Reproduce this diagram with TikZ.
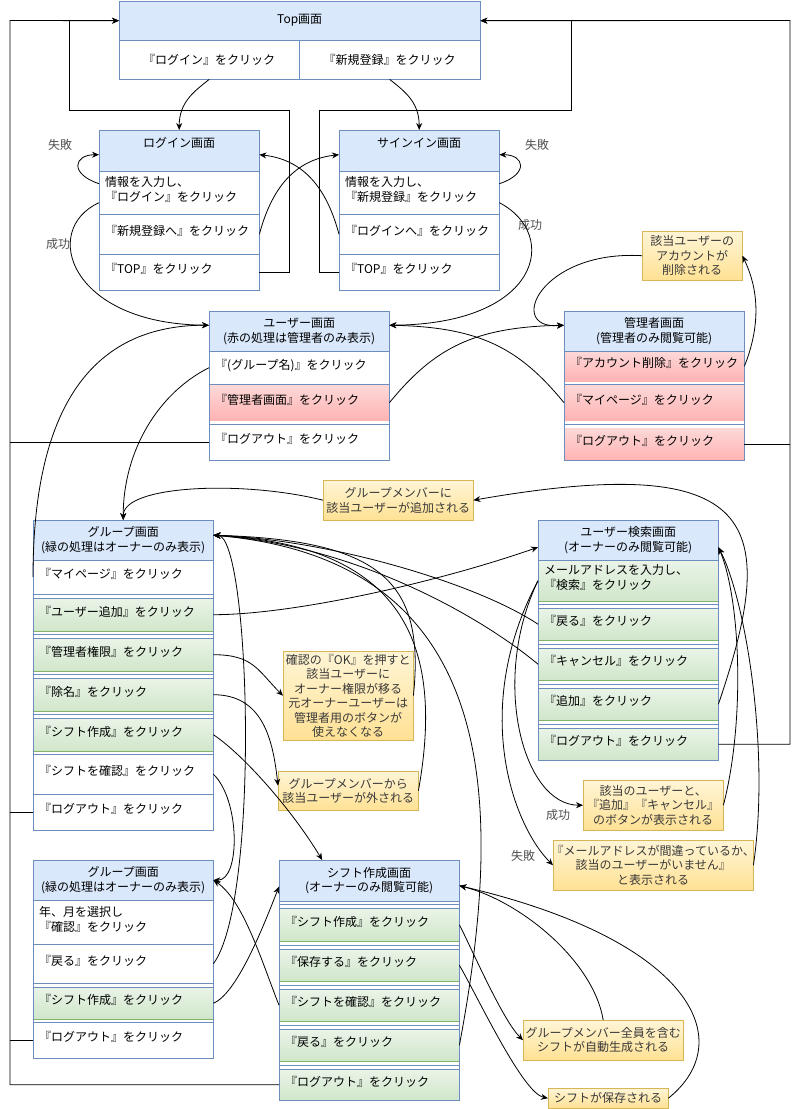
\documentclass[tikz,border=0pt]{standalone}
\usepackage{fontspec}
\setmainfont{Noto Sans CJK JP}
\usetikzlibrary{arrows.meta}
\definecolor{scrfill}{HTML}{DAE8FC}
\definecolor{scrline}{HTML}{6C8EBF}
\definecolor{owntop}{HTML}{EAF4E8}
\definecolor{ownbot}{HTML}{D0E6CA}
\definecolor{ownline}{HTML}{82B366}
\definecolor{admtop}{HTML}{FDD8D8}
\definecolor{admbot}{HTML}{FFB3B3}
\definecolor{notetop}{HTML}{FFF5D6}
\definecolor{notebot}{HTML}{FFE194}
\definecolor{noteline}{HTML}{D6B656}
\definecolor{notetext}{HTML}{3A3A3A}
\definecolor{lbltext}{HTML}{505050}

\begin{document}
\begin{tikzpicture}[x=1pt, y=-1pt, >={Stealth[length=7pt,width=6pt]},
  font=\fontsize{12}{14.5}\selectfont,
  hdr/.style={anchor=north west, draw=scrline, fill=scrfill, minimum height=40, inner sep=0pt, align=center},
  item/.style={anchor=north west, minimum width=180, text width=168pt, inner xsep=6pt, inner ysep=0pt, align=left,
    execute at end node={\rule[-7pt]{0pt}{7pt}}},
  litem/.style={item, minimum width=160, text width=148pt},
  own/.style={top color=owntop, bottom color=ownbot, draw=ownline},
  adm/.style={top color=admtop, bottom color=admbot},
  cell/.style={anchor=north west, inner sep=0pt, minimum height=39, align=center},
  note/.style={anchor=north west, draw=noteline, top color=notetop, bottom color=notebot, inner sep=0pt, align=center, text=notetext},
  lbl/.style={text=lbltext, inner sep=1pt},
  sep/.style={draw=scrline, line width=0.8pt},
  wire/.style={line width=0.8pt},
  conn/.style={->, line width=0.8pt}]
  \useasboundingbox (0,0) rectangle (800,1109);
  \fill[white] (0,0) rectangle (800,1109);

  % Top
  \node[hdr, minimum width=361, minimum height=39] (topHdr) at (119,1) {Top画面};
  \node[cell, minimum width=180] (topLogin) at (119,40) {『ログイン』をクリック};
  \node[cell, minimum width=181] (topSignup) at (299,40) {『新規登録』をクリック};
  \draw[sep] (topHdr.north west) rectangle (topSignup.south east);
  \draw[sep] (topLogin.north west) -- (topSignup.north east);
  \draw[sep] (topLogin.north east) -- (topLogin.south east);

  % login
  \node[hdr, minimum width=160, minimum height=41] (lgHdr) at (99,130) {};
  \node (lgTitle) at ([yshift=-13pt]lgHdr.north) {ログイン画面};
  \node[litem, minimum height=43] (lgInput) at (99,171) {情報を入力し、\\『ログイン』をクリック};
  \node[litem, minimum height=40] (lgToSign) at (99,214) {『新規登録へ』をクリック};
  \node[litem, minimum height=36] (lgTop) at (99,254) {『TOP』をクリック};
  \draw[sep] (lgHdr.north west) rectangle (lgTop.south east);
  \foreach \y in {171,214,254} \draw[sep] (99,\y) -- (259,\y);

  % sign in
  \node[hdr, minimum width=160, minimum height=41] (snHdr) at (339,130) {};
  \node (snTitle) at ([yshift=-13pt]snHdr.north) {サインイン画面};
  \node[litem, minimum height=43] (snInput) at (339,171) {情報を入力し、\\『新規登録』をクリック};
  \node[litem, minimum height=40] (snToLogin) at (339,214) {『ログインへ』をクリック};
  \node[litem, minimum height=36] (snTop) at (339,254) {『TOP』をクリック};
  \draw[sep] (snHdr.north west) rectangle (snTop.south east);
  \foreach \y in {171,214,254} \draw[sep] (339,\y) -- (499,\y);

  % user
  \node[hdr, minimum width=180] (usrHdr) at (209,311) {ユーザー画面\\(赤の処理は管理者のみ表示)};
  \node[item, minimum height=33] (usrGroup) at (209,351) {『(グループ名)』をクリック};
  \node[item, adm, minimum height=35] (usrAdmin) at (209,385) {『管理者画面』をクリック};
  \node[item, minimum height=36] (usrLogout) at (209,424) {『ログアウト』をクリック};
  \draw[sep] (usrHdr.north west) rectangle (usrLogout.south east);
  \foreach \y in {351,384,424} \draw[sep] (209,\y) -- (389,\y);

  % admin
  \node[hdr, minimum width=180] (admHdr) at (564,311) {管理者画面\\(管理者のみ閲覧可能)};
  \node[item, adm, minimum height=30] (admDel) at (564,351) {『アカウント削除』をクリック};
  \node[item, adm, minimum height=35] (admMy) at (564,385) {『マイページ』をクリック};
  \node[item, adm, minimum height=32] (admLogout) at (564,428) {『ログアウト』をクリック};
  \draw[sep] (admHdr.north west) rectangle (admLogout.south east);
  \foreach \y in {351,384,424} \draw[sep] (564,\y) -- (744,\y);

  % group
  \node[hdr, minimum width=180] (grpHdr) at (33,520) {グループ画面\\(緑の処理はオーナーのみ表示)};
  \node[item, minimum height=34] (grpMy) at (33,560) {『マイページ』をクリック};
  \node[item, own, minimum height=33] (grpAdd) at (33,598) {『ユーザー追加』をクリック};
  \node[item, own, minimum height=33] (grpOwner) at (33,638) {『管理者権限』をクリック};
  \node[item, own, minimum height=33] (grpRemove) at (33,678) {『除名』をクリック};
  \node[item, own, minimum height=33] (grpShift) at (33,718) {『シフト作成』をクリック};
  \node[item, minimum height=40] (grpCheck) at (33,754) {『シフトを確認』をクリック};
  \node[item, minimum height=36] (grpLogout) at (33,794) {『ログアウト』をクリック};
  \draw[sep] (grpHdr.north west) rectangle (grpLogout.south east);
  \foreach \y in {560,594,598,634,638,674,678,714,718,754,794} \draw[sep] (33,\y) -- (213,\y);

  % user search
  \node[hdr, minimum width=180] (srchHdr) at (538,520) {ユーザー検索画面\\(オーナーのみ閲覧可能)};
  \node[item, own, minimum height=41] (srchMail) at (538,560) {メールアドレスを入力し、\\『検索』をクリック};
  \node[item, own, minimum height=32] (srchBack) at (538,608) {『戻る』をクリック};
  \node[item, own, minimum height=32] (srchCancel) at (538,648) {『キャンセル』をクリック};
  \node[item, own, minimum height=32] (srchAdd) at (538,688) {『追加』をクリック};
  \node[item, own, minimum height=32] (srchLogout) at (538,728) {『ログアウト』をクリック};
  \draw[sep] (srchHdr.north west) rectangle (srchLogout.south east);
  \foreach \y in {560,604,608,644,648,684,688,724,728} \draw[sep] (538,\y) -- (718,\y);

  % group (calendar)
  \node[hdr, minimum width=180] (calHdr) at (33,860) {グループ画面\\(緑の処理はオーナーのみ表示)};
  \node[item, minimum height=44] (calSelect) at (33,900) {年、月を選択し\\『確認』をクリック};
  \node[item, minimum height=39] (calBack) at (33,944) {『戻る』をクリック};
  \node[item, own, minimum height=32] (calShift) at (33,987) {『シフト作成』をクリック};
  \node[item, minimum height=36] (calLogout) at (33,1022) {『ログアウト』をクリック};
  \draw[sep] (calHdr.north west) rectangle (calLogout.south east);
  \foreach \y in {900,944,983,987,1022} \draw[sep] (33,\y) -- (213,\y);

  % shift
  \node[hdr, minimum width=180, minimum height=41] (sftHdr) at (279,860) {シフト作成画面\\(オーナーのみ閲覧可能)};
  \node[item, own, minimum height=33] (sftMake) at (279,908) {『シフト作成』をクリック};
  \node[item, own, minimum height=32] (sftSave) at (279,949) {『保存する』をクリック};
  \node[item, own, minimum height=32] (sftCheck) at (279,989) {『シフトを確認』をクリック};
  \node[item, own, minimum height=32] (sftBack) at (279,1029) {『戻る』をクリック};
  \node[item, own, minimum height=31] (sftLogout) at (279,1069) {『ログアウト』をクリック};
  \draw[sep] (sftHdr.north west) rectangle (sftLogout.south east);
  \foreach \y in {901,904,908,945,949,985,989,1025,1029,1065,1069} \draw[sep] (279,\y) -- (459,\y);

  % notes
  \node[note, minimum width=100, minimum height=49] (noteDel) at (642,231) {該当ユーザーの\\アカウントが\\削除される};
  \node[note, minimum width=150, minimum height=40] (noteAdded) at (323,480) {グループメンバーに\\該当ユーザーが追加される};
  \node[note, minimum width=130, minimum height=89] (noteOwner) at (283,651) {確認の『OK』を押すと\\該当ユーザーに\\オーナー権限が移る\\元オーナーユーザーは\\管理者用のボタンが\\使えなくなる};
  \node[note, minimum width=140, minimum height=39] (noteRemoved) at (278,771) {グループメンバーから\\該当ユーザーが外される};
  \node[note, minimum width=140, minimum height=50] (noteFound) at (583,780) {該当のユーザーと、\\『追加』『キャンセル』\\のボタンが表示される};
  \node[note, minimum width=200, minimum height=50] (noteNotFound) at (553,840) {\makebox[196pt]{『メールアドレスが間違っているか、}\\該当のユーザーがいません』\\と表示される};
  \node[note, minimum width=160, minimum height=40] (noteGenerated) at (523,1020) {グループメンバー全員を含む\\シフトが自動生成される};
  \node[note, minimum width=120, minimum height=20] (noteSaved) at (548,1088) {シフトが保存される};

  % labels
  \node[lbl] (lgFail) at (60,145) {失敗};
  \node[lbl] (snFail) at (537,145) {失敗};
  \node[lbl] (lgOk) at (58,244) {成功};
  \node[lbl] (snOk) at (530,225) {成功};
  \node[lbl] (srchOk) at (558,815) {成功};
  \node[lbl] (srchFail) at (523,856) {失敗};

  % rails back to Top
  \coordinate (lgBack) at (289,110);
  \coordinate (topL) at (69,110);
  \coordinate (snBack) at (319,110);
  \coordinate (topR) at (571,110);
  \coordinate (railL) at (10,20.5);
  \coordinate (railR) at (790,20.5);
  \draw[conn] (lgTop.east) -| (lgBack) -- (topL) |- (topHdr.west);
  \draw[conn] (snTop.west) -| (snBack) -- (topR) |- (topHdr.east);
  \draw[conn] (sftLogout.west) -| (railL) -- (topHdr.west);
  \draw[wire] (usrLogout.west) -- (usrLogout.west -| railL);
  \draw[wire] (grpLogout.west) -- (grpLogout.west -| railL);
  \draw[wire] (calLogout.west) -- (calLogout.west -| railL);
  \draw[conn] (srchLogout.east) -| (railR) -- (topHdr.east);
  \draw[wire] (admLogout.east) -- (admLogout.east -| railR);

  % top / login / sign in
  \draw[conn] (topLogin.south) .. controls +(-15,12) and +(0,-28) .. (lgHdr.north);
  \draw[conn] (topSignup.south) .. controls +(15,12) and +(0,-28) .. (snHdr.north);
  \draw[conn] ([yshift=9pt]lgInput.west) .. controls +(-30,-10) and +(-25,0) .. ([yshift=-4pt]lgHdr.west);
  \draw[conn] ([yshift=9pt]snInput.east) .. controls +(30,-10) and +(25,0) .. ([yshift=-4pt]snHdr.east);
  \draw[conn] (lgToSign.east) .. controls +(12,-45) and +(-45,5) .. ([yshift=-4pt]snHdr.west);
  \draw[conn] (snToLogin.west) .. controls +(-12,-45) and +(45,5) .. ([yshift=-4pt]lgHdr.east);
  \draw[conn] ([yshift=-10pt]lgInput.west) .. controls +(-59,27) and +(-139,-1) .. ([yshift=6pt]usrHdr.west);
  \draw[conn] ([yshift=-10pt]snInput.east) .. controls +(61,32) and +(151,-1) .. ([yshift=6pt]usrHdr.east);

  % user / admin
  \draw[conn] (usrAdmin.east) .. controls +(45,-55) and +(-90,2) .. ([yshift=6pt]admHdr.west);
  \draw[conn] (admMy.west) .. controls +(-45,-55) and +(90,2) .. ([yshift=6pt]usrHdr.east);
  \draw[conn] (admDel.east) .. controls +(20,-50) and +(12,25) .. (noteDel.east);
  \draw[conn] (noteDel.west) .. controls +(-102,-6) and +(-59,5) .. ([yshift=6pt]admHdr.west);
  \draw[conn] (usrGroup.west) .. controls +(-50,25) and +(0,-70) .. (grpHdr.north);
  \draw[conn] (grpMy.west) .. controls +(0,-180) and +(-110,0) .. ([yshift=6pt]usrHdr.west);

  % group / search
  \draw[conn] (noteAdded.west) .. controls +(-80,-20) and +(0,-35) .. (grpHdr.north);
  \draw[conn] (grpAdd.east) .. controls +(80,0) and +(-100,35) .. ([yshift=-7pt]srchHdr.west);
  \draw[conn] (srchMail.west) .. controls +(-48,100) and +(-60,0) .. (noteFound.west);
  \draw[conn] (srchMail.west) .. controls +(-68,128) and +(-40,-40) .. (noteNotFound.west);
  \draw[conn] (srchBack.west) .. controls +(-60,-40) and +(120,5) .. ([yshift=5pt]grpHdr.east);
  \draw[conn] (srchCancel.west) .. controls +(-60,-50) and +(140,10) .. ([yshift=5pt]grpHdr.east);
  \draw[conn] (srchAdd.east) .. controls +(62,-182) and +(287,-50) .. (noteAdded.east);
  \draw[conn] (noteFound.east) .. controls +(22,-85) and +(22,52) .. ([yshift=-7pt]srchHdr.east);
  \draw[conn] (noteNotFound.east) .. controls +(17,-115) and +(27,52) .. ([yshift=-7pt]srchHdr.east);

  % group owner actions
  \draw[conn] (grpOwner.east) .. controls +(40,0) and +(-25,-25) .. (noteOwner.west);
  \draw[conn] (grpRemove.east) .. controls +(50,0) and +(-5,-45) .. ([yshift=5pt]noteRemoved.west);
  \draw[conn] (noteOwner.east) .. controls +(12,-115) and +(167,5) .. ([yshift=5pt]grpHdr.east);
  \draw[conn] (noteRemoved.east) .. controls +(27,-150) and +(187,10) .. ([yshift=5pt]grpHdr.east);
  \draw[conn] (grpShift.east) .. controls +(30,20) and +(-30,-50) .. ([xshift=-47pt]sftHdr.north);
  \draw[conn] (grpCheck.east) .. controls +(27,26) and +(27,0) .. (calHdr.east);

  % calendar / shift
  \draw[conn] (calBack.east) .. controls +(47,-63) and +(37,0) .. ([yshift=5pt]grpHdr.east);
  \draw[conn] (sftCheck.west) .. controls +(-17,-43) and +(30,20) .. (calHdr.east);
  \draw[conn] (calShift.east) .. controls +(25,-10) and +(-12,30) .. ([yshift=-6pt]sftHdr.west);
  \draw[conn] (sftBack.east) .. controls +(46,-245) and +(287,25) .. ([yshift=5pt]grpHdr.east);
  \draw[conn] (noteGenerated.north) .. controls +(-10,-60) and +(60,15) .. ([yshift=-5pt]sftHdr.east);
  \draw[conn] (noteSaved.east) .. controls +(72,-58) and +(231,54) .. ([yshift=-5pt]sftHdr.east);
  \draw[conn] (sftMake.east) .. controls +(15,30) and +(-20,-20) .. (noteGenerated.west);
  \draw[conn] (sftSave.east) .. controls +(20,35) and +(-25,-5) .. (noteSaved.west);
\end{tikzpicture}
\end{document}
